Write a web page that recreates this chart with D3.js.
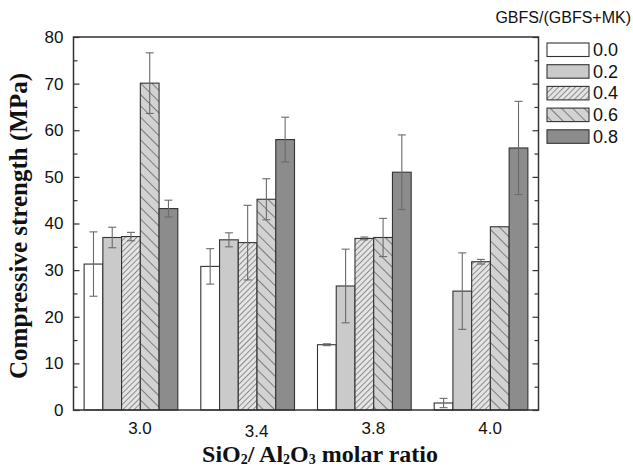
<!DOCTYPE html>
<html>
<head>
<meta charset="utf-8">
<script src="https://cdnjs.cloudflare.com/ajax/libs/d3/7.8.5/d3.min.js"></script>
<style>
  body { margin: 0; background: #fff; }
  svg { display: block; }
</style>
</head>
<body>
<div id="chart"></div>
<script>
// SiO2/Al2O3 molar ratio groups and GBFS/(GBFS+MK) series
const groups = ['3.0', '3.4', '3.8', '4.0'];
const ratios = ['0.0', '0.2', '0.4', '0.6', '0.8'];

// compressive strength (MPa), one array per series
const s00 = [31.3, 30.8, 14.0, 1.5];
const s02 = [37.0, 36.5, 26.6, 25.5];
const s04 = [37.2, 35.9, 36.8, 31.8];
const s06 = [70.1, 45.2, 37.0, 39.3];
const s08 = [43.2, 58.0, 51.0, 56.2];

// error bar half widths
const e00 = [6.9, 3.8, 0.2, 1.0];
const e02 = [2.2, 1.5, 7.9, 8.2];
const e04 = [0.9, 8.0, 0.3, 0.5];
const e06 = [6.5, 4.4, 4.1, 0];
const e08 = [1.8, 4.8, 8.0, 10.0];

const yTicks = [0, 10, 20, 30, 40, 50, 60, 70, 80];

const values = [s00, s02, s04, s06, s08];
const errors = [e00, e02, e04, e06, e08];

const width = 633, height = 468;
const margin = { top: 37, right: 94.5, bottom: 58, left: 73.5 };

const svg = d3.select('#chart').append('svg')
  .attr('width', width)
  .attr('height', height);

// fill patterns
const defs = svg.append('defs');
const hatch1 = defs.append('pattern')
  .attr('id', 'hatch04')
  .attr('patternUnits', 'userSpaceOnUse')
  .attr('width', 4).attr('height', 4)
  .attr('patternTransform', 'rotate(45)');
hatch1.append('rect').attr('width', 4).attr('height', 4).attr('fill', '#e4e4e4');
hatch1.append('line').attr('x1', 0).attr('y1', 0).attr('x2', 0).attr('y2', 4)
  .attr('stroke', '#444').attr('stroke-width', 1.1);

const hatch2 = defs.append('pattern')
  .attr('id', 'hatch06')
  .attr('patternUnits', 'userSpaceOnUse')
  .attr('width', 8).attr('height', 8)
  .attr('patternTransform', 'rotate(-45)');
hatch2.append('rect').attr('width', 8).attr('height', 8).attr('fill', '#d2d2d2');
hatch2.append('line').attr('x1', 0).attr('y1', 0).attr('x2', 0).attr('y2', 8)
  .attr('stroke', '#333').attr('stroke-width', 1.1);

const fills = ['#ffffff', '#cacaca', 'url(#hatch04)', 'url(#hatch06)', '#8c8c8c'];

const x0 = d3.scaleBand()
  .domain(groups)
  .range([margin.left, width - margin.right])
  .paddingInner(0.197)
  .paddingOuter(0.091);

const x1 = d3.scaleBand()
  .domain(ratios)
  .range([0, x0.bandwidth()]);

const y = d3.scaleLinear()
  .domain([0, 80])
  .range([height - margin.bottom, margin.top]);

// bars
const g = svg.append('g');
ratios.forEach((r, i) => {
  const series = g.append('g');
  series.selectAll('rect')
    .data(groups)
    .enter()
    .append('rect')
    .attr('x', d => x0(d) + x1(r))
    .attr('y', (d, j) => y(values[i][j]))
    .attr('width', x1.bandwidth())
    .attr('height', (d, j) => y(0) - y(values[i][j]))
    .attr('fill', fills[i])
    .attr('stroke', '#333')
    .attr('stroke-width', 1.1);

  // error bars
  groups.forEach((d, j) => {
    const e = errors[i][j];
    if (!e) return;
    const cx = x0(d) + x1(r) + x1.bandwidth() / 2;
    const top = y(values[i][j] + e), bot = y(values[i][j] - e);
    series.append('line')
      .attr('x1', cx).attr('x2', cx).attr('y1', top).attr('y2', bot)
      .attr('stroke', '#6a6a6a').attr('stroke-width', 1.1);
    [top, bot].forEach(yy => {
      series.append('line')
        .attr('x1', cx - 4).attr('x2', cx + 4).attr('y1', yy).attr('y2', yy)
        .attr('stroke', '#6a6a6a').attr('stroke-width', 1.1);
    });
  });
});

// axes
const minor = d3.range(5, 80, 10);
const left = svg.append('g')
  .attr('transform', `translate(${margin.left},0)`)
  .call(d3.axisLeft(y).tickValues(yTicks).tickSize(-6).tickPadding(10).tickFormat(d3.format('d')));
left.append('g')
  .call(d3.axisLeft(y).tickValues(minor).tickSize(-4).tickFormat(''));

const right = svg.append('g')
  .attr('transform', `translate(${width - margin.right},0)`)
  .call(d3.axisRight(y).tickValues(yTicks).tickSize(-6).tickFormat(''));
right.append('g')
  .call(d3.axisRight(y).tickValues(minor).tickSize(-4).tickFormat(''));

svg.selectAll('.domain').remove();
svg.selectAll('.tick line').attr('stroke', '#333').attr('stroke-width', 1.2);
left.selectAll('.tick text')
  .attr('font-family', 'Liberation Sans, Arial, sans-serif')
  .attr('font-size', 17)
  .attr('fill', '#111');

// frame
svg.append('rect')
  .attr('x', margin.left)
  .attr('y', margin.top)
  .attr('width', width - margin.left - margin.right)
  .attr('height', height - margin.top - margin.bottom)
  .attr('fill', 'none')
  .attr('stroke', '#333')
  .attr('stroke-width', 1.5);

// category labels (the 3.4 label sits a little lower in the original)
const labelDrop = [0, 3, 0, 0];
svg.append('g').selectAll('text')
  .data(groups)
  .enter()
  .append('text')
  .attr('x', d => x0(d) + x0.bandwidth() / 2 + 9)
  .attr('y', (d, i) => 434 + labelDrop[i])
  .attr('text-anchor', 'middle')
  .attr('font-family', 'Liberation Sans, Arial, sans-serif')
  .attr('font-size', 17)
  .attr('fill', '#111')
  .text(d => d);

// axis titles
const xTitle = svg.append('text')
  .attr('x', 320)
  .attr('y', 462)
  .attr('text-anchor', 'middle')
  .attr('font-family', 'Liberation Serif, Times New Roman, serif')
  .attr('font-weight', 'bold')
  .attr('font-size', 24)
  .attr('fill', '#111');
xTitle.append('tspan').text('SiO');
xTitle.append('tspan').attr('font-size', 14).attr('dy', 2).text('2');
xTitle.append('tspan').attr('dy', -2).text('/  Al');
xTitle.append('tspan').attr('font-size', 14).attr('dy', 2).text('2');
xTitle.append('tspan').attr('dy', -2).text('O');
xTitle.append('tspan').attr('font-size', 14).attr('dy', 2).text('3');
xTitle.append('tspan').attr('dy', -2).text(' molar ratio');

svg.append('text')
  .attr('transform', 'translate(27,226) rotate(-90)')
  .attr('text-anchor', 'middle')
  .attr('font-family', 'Liberation Serif, Times New Roman, serif')
  .attr('font-weight', 'bold')
  .attr('font-size', 25)
  .attr('fill', '#111')
  .text('Compressive strength (MPa)');

// legend
svg.append('text')
  .attr('x', 631)
  .attr('y', 23)
  .attr('text-anchor', 'end')
  .attr('font-family', 'Liberation Sans, Arial, sans-serif')
  .attr('font-size', 16)
  .attr('fill', '#111')
  .text('GBFS/(GBFS+MK)');

const legend = svg.append('g');
ratios.forEach((r, i) => {
  const ly = 43 + i * 21.7;
  legend.append('rect')
    .attr('x', 547).attr('y', ly)
    .attr('width', 42).attr('height', 13.5)
    .attr('fill', fills[i])
    .attr('stroke', '#333')
    .attr('stroke-width', 1.1);
  legend.append('text')
    .attr('x', 593).attr('y', ly + 13)
    .attr('font-family', 'Liberation Sans, Arial, sans-serif')
    .attr('font-size', 18)
    .attr('fill', '#111')
    .text(r);
});
</script>
</body>
</html>
